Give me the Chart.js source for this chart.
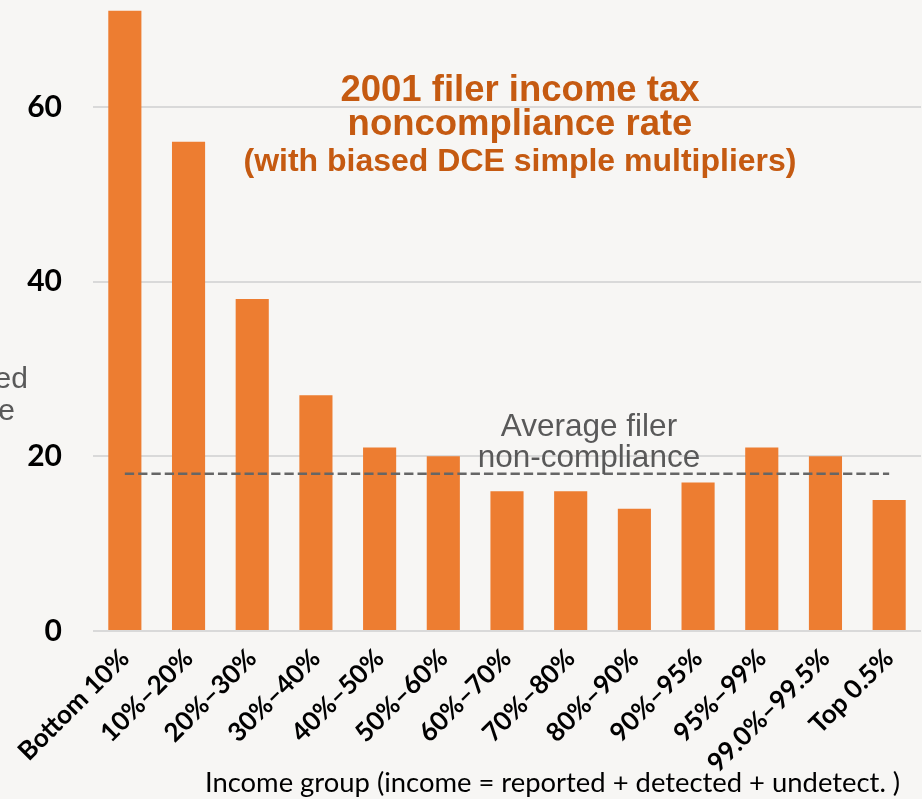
<!DOCTYPE html>
<html>
<head>
<meta charset="utf-8">
<script src="https://cdn.jsdelivr.net/npm/chart.js@4.4.0/dist/chart.umd.min.js"></script>
<style>
  html, body { margin: 0; padding: 0; background: #F7F6F4; overflow: hidden; }
  #wrap { position: relative; width: 922px; height: 799px; }
  #chart { position: absolute; left: 0; top: 0; }
  .txt { position: absolute; white-space: nowrap; }
  .title { font-family: "Liberation Sans", Arial, sans-serif; font-weight: bold; color: #C55A11; text-align: center; left: 220px; width: 600px; }
  .note { font-family: "Liberation Sans", Arial, sans-serif; color: #595959; font-size: 31.5px; line-height: 31px; text-align: center; left: 439px; width: 300px; }
  .ytitle { font-family: "Liberation Sans", Arial, sans-serif; color: #595959; font-size: 30px; line-height: 32px; text-align: right; }
  .xtitle { font-family: Lato, "Open Sans", sans-serif; color: #000; font-size: 27.4px; line-height: 32px; left: 205px; top: 766px; }
</style>
</head>
<body>
<div id="wrap">
  <canvas id="chart" width="922" height="799"></canvas>
  <div class="txt ytitle" style="right: 894px; top: 362px;">Net misreported</div>
  <div class="txt ytitle" style="right: 907px; top: 394px;">income</div>
  <div class="txt title" style="top: 69px; font-size: 36.5px; line-height: 40px;">2001 filer income tax</div>
  <div class="txt title" style="top: 103px; font-size: 36.5px; line-height: 40px;">noncompliance rate</div>
  <div class="txt title" style="top: 142px; font-size: 32px; line-height: 36px;">(with biased DCE simple multipliers)</div>
  <div class="txt note" style="top: 410px;">Average filer<br>non-compliance</div>
  <div class="txt xtitle">Income group (income = reported + detected + undetect. )</div>
</div>
<script>
// income groups and filer noncompliance rate (%)
const incomeGroups = ['Bottom 10%', '10%–20%', '20%–30%', '30%–40%', '40%–50%', '50%–60%',
  '60%–70%', '70%–80%', '80%–90%', '90%–95%', '95%–99%', '99.0%–99.5%', 'Top 0.5%'];
const noncomplianceRate = [71, 56, 38, 27, 21, 20, 16, 16, 14, 17, 21, 20, 15];
const averageRate = 18;
const yTicks = [0, 20, 40, 60];

const ctx = document.getElementById('chart').getContext('2d');
new Chart(ctx, {
  data: {
    labels: incomeGroups,
    datasets: [
      {
        // dashed average line across all groups
        type: 'line',
        data: incomeGroups.map(() => averageRate),
        borderColor: '#666666',
        borderWidth: 2.7,
        borderDash: [9.3, 4],
        borderCapStyle: 'butt',
        pointRadius: 0,
        fill: false,
        order: 0
      },
      {
        type: 'bar',
        data: noncomplianceRate,
        backgroundColor: '#ED7D31',
        barPercentage: 0.52,
        categoryPercentage: 1,
        order: 1
      }
    ]
  },
  options: {
    responsive: false,
    animation: false,
    devicePixelRatio: 1,
    layout: { padding: { top: 2, right: 1, left: 0, bottom: 0 } },
    plugins: { legend: { display: false }, tooltip: { enabled: false } },
    scales: {
      x: {
        grid: { display: false },
        border: { display: false },
        ticks: {
          color: '#000',
          font: { family: 'Lato', size: 26, weight: 'bold' },
          maxRotation: 45,
          minRotation: 45,
          padding: 4,
          autoSkip: false
        },
        afterFit: s => { s.height = 168; }
      },
      y: {
        min: 0,
        max: 72,
        grid: { color: '#D9D9D9', lineWidth: 2, drawTicks: false },
        border: { display: false },
        ticks: {
          color: '#000',
          font: { family: 'Lato', size: 30, weight: 'bold' },
          padding: 31
        },
        afterBuildTicks: s => { s.ticks = yTicks.map(v => ({ value: v })); },
        afterFit: s => {
          s.width = 93;
          s.paddingTop = 0;
          s.paddingBottom = 0;
        }
      }
    }
  }
});
</script>
</body>
</html>
